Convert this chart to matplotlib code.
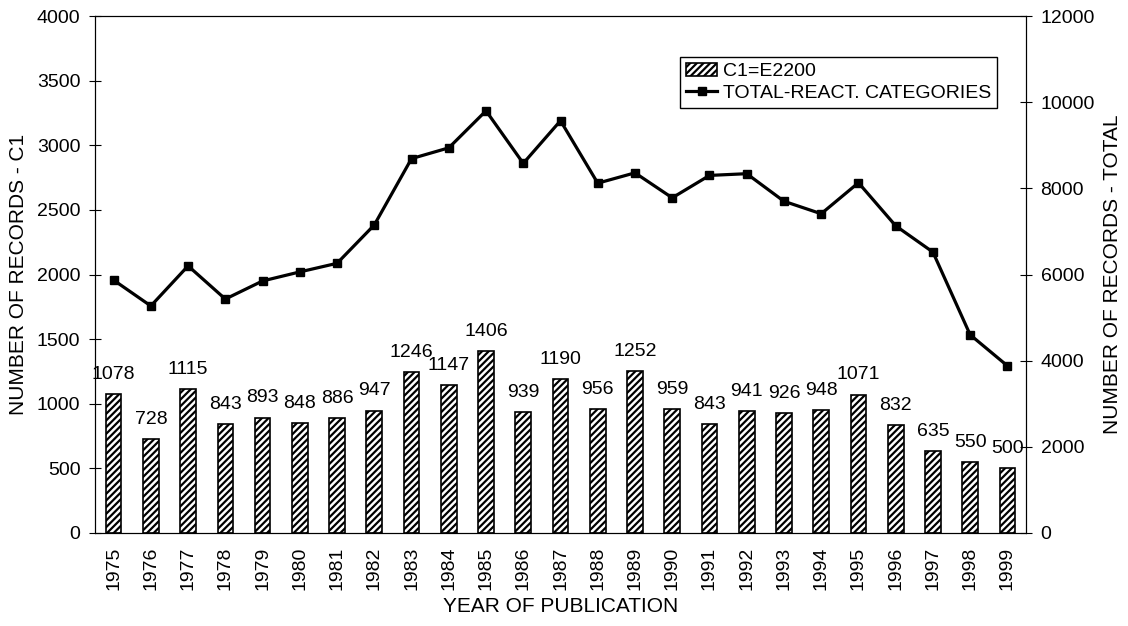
import numpy as np
import matplotlib
matplotlib.use("Agg")
import matplotlib.pyplot as plt

plt.rcParams['font.family'] = ['Liberation Sans', 'DejaVu Sans']
plt.rcParams['hatch.linewidth'] = 1.6

# Datos
years = ['1975', '1976', '1977', '1978', '1979', '1980', '1981', '1982', '1983',
         '1984', '1985', '1986', '1987', '1988', '1989', '1990', '1991', '1992',
         '1993', '1994', '1995', '1996', '1997', '1998', '1999']
c1_records = [1078, 728, 1115, 843, 893, 848, 886, 947, 1246, 1147, 1406, 939, 1190,
              956, 1252, 959, 843, 941, 926, 948, 1071, 832, 635, 550, 500]
total_records = [5870, 5270, 6200, 5430, 5850, 6060, 6260, 7150, 8690, 8940, 9800,
                 8580, 9570, 8120, 8360, 7780, 8300, 8340, 7700, 7410, 8130, 7130,
                 6520, 4600, 3880]

x = np.arange(len(years))

fig = plt.figure(figsize=(11.28, 6.26), dpi=100)
ax = fig.add_axes([0.0842, 0.1486, 0.8254, 0.8258])
ax2 = ax.twinx()

bars = ax.bar(x, c1_records, width=0.42, color='white', edgecolor='black',
              linewidth=1.2, hatch='/////', label='C1=E2200', zorder=2)
for xi, v in zip(x, c1_records):
    ax.annotate(str(v), (xi, v), xytext=(0, 8), textcoords='offset points',
                ha='center', va='bottom', fontsize=14)

line, = ax2.plot(x, total_records, color='black', linewidth=2.3, marker='s',
                 markersize=6, label='TOTAL-REACT. CATEGORIES')

ax.set_xlim(-0.5, len(years) - 0.5)
ax.set_ylim(0, 4000)
ax.set_yticks(np.arange(0, 4001, 500))
ax2.set_ylim(0, 12000)
ax2.set_yticks(np.arange(0, 12001, 2000))

ax.set_xticks(x)
ax.set_xticklabels(years, rotation=90, fontsize=14)
ax.tick_params(axis='x', length=0, pad=10)
ax.tick_params(axis='y', direction='inout', length=9, labelsize=14, pad=6)
ax2.tick_params(axis='y', direction='inout', length=9, labelsize=14, pad=6)

ax.set_xlabel('YEAR OF PUBLICATION', fontsize=15, labelpad=5)
ax.set_ylabel('NUMBER OF RECORDS - C1', fontsize=15, labelpad=6)
ax2.set_ylabel('NUMBER OF RECORDS - TOTAL', fontsize=15, labelpad=6)

leg = ax.legend([bars, line], ['C1=E2200', 'TOTAL-REACT. CATEGORIES'],
                loc='upper right', bbox_to_anchor=(0.969, 0.921), fontsize=14,
                frameon=True, fancybox=False, edgecolor='black', framealpha=1,
                borderpad=0.3, labelspacing=0.2, handlelength=1.6,
                handletextpad=0.3, borderaxespad=0)
leg.get_frame().set_linewidth(1.0)
leg.set_zorder(5)

fig.savefig('out.png', dpi=100)
